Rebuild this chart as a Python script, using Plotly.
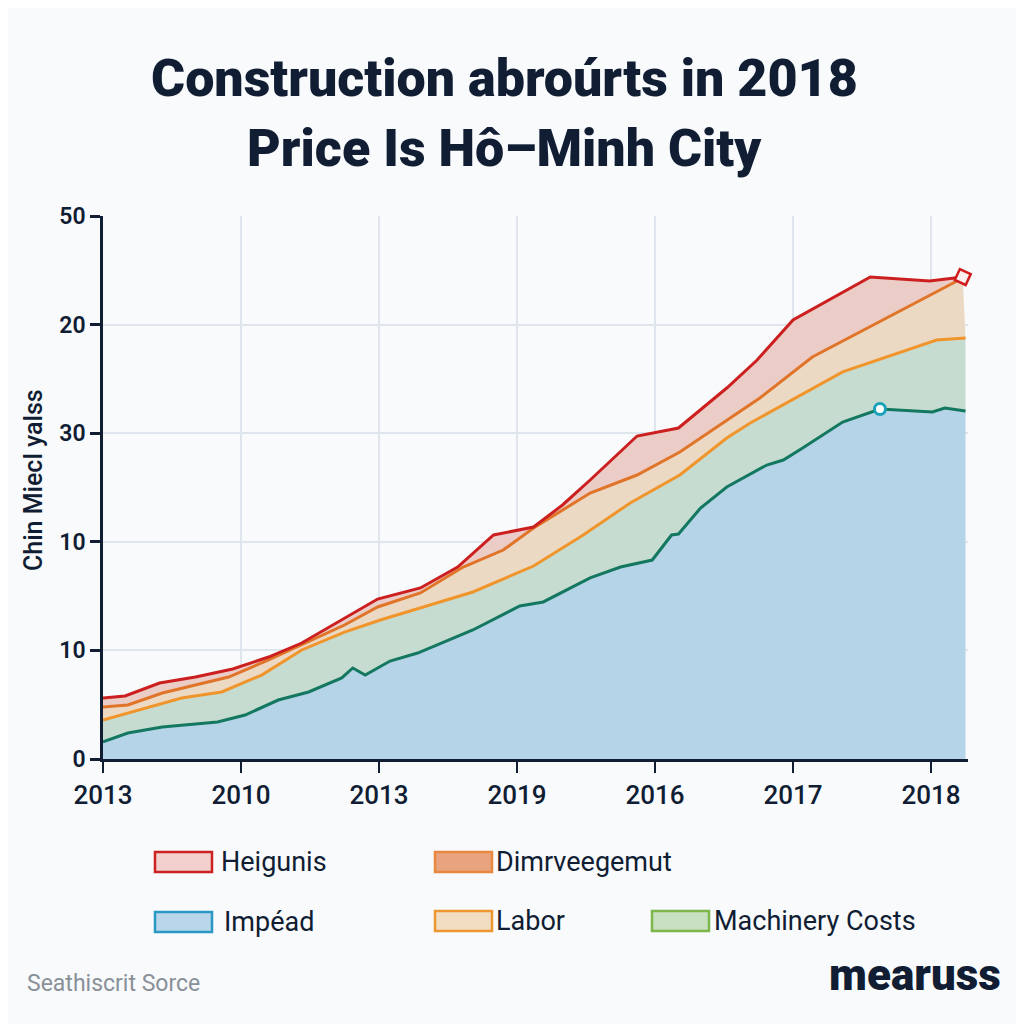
import plotly.graph_objects as go

# ---------------- data ----------------
tick_positions = [0, 1, 2, 3, 4, 5, 6]
tick_labels = ["2013", "2010", "2013", "2019", "2016", "2017", "2018"]
y_tick_values = [0, 10, 20, 30, 40, 50]
y_tick_labels = ["0", "10", "10", "30", "20", "50"]

impead_x = [0, 0.18, 0.43, 0.83, 1.03, 1.27, 1.49, 1.73, 1.81, 1.90, 2.08, 2.28, 2.68,
            3.02, 3.19, 3.53, 3.75, 3.98, 4.12, 4.17, 4.33, 4.52, 4.81, 4.93, 5.07,
            5.36, 5.63, 6.01, 6.10, 6.25]
impead_y = [1.57, 2.39, 2.95, 3.41, 4.05, 5.43, 6.17, 7.46, 8.38, 7.73, 9.02, 9.76, 11.88,
            14.09, 14.46, 16.67, 17.68, 18.32, 20.63, 20.72, 23.11, 25.05, 27.07, 27.53, 28.64,
            31.03, 32.23, 31.95, 32.32, 32.04]

machinery_x = [0, 0.33, 0.57, 0.86, 1.15, 1.44, 1.75, 2.01, 2.37, 2.68, 3.12, 3.48, 3.82,
               4.18, 4.52, 4.69, 5.36, 6.04, 6.25]
machinery_y = [3.59, 4.79, 5.62, 6.17, 7.73, 10.04, 11.69, 12.80, 14.18, 15.38, 17.77, 20.63, 23.57,
               26.15, 29.56, 30.94, 35.64, 38.58, 38.77]

labor_x = [0, 0.18, 0.43, 0.91, 1.20, 1.44, 1.75, 1.99, 2.30, 2.61, 2.90, 3.12, 3.53,
           3.87, 4.18, 4.76, 5.14, 6.23]
labor_y = [4.79, 4.97, 6.08, 7.55, 9.12, 10.50, 12.34, 14.00, 15.29, 17.68, 19.24, 21.27, 24.49,
           26.15, 28.27, 33.24, 37.02, 44.29]

heigunis_x = [0, 0.16, 0.41, 0.67, 0.94, 1.20, 1.44, 1.73, 1.99, 2.30, 2.57, 2.83, 3.12,
              3.33, 3.53, 3.87, 4.17, 4.52, 4.74, 5.00, 5.56, 5.99, 6.23]
heigunis_y = [5.62, 5.80, 7.00, 7.55, 8.29, 9.39, 10.68, 12.80, 14.73, 15.75, 17.68, 20.63, 21.36,
              23.39, 25.69, 29.74, 30.48, 34.16, 36.74, 40.42, 44.38, 44.01, 44.38]

circle_marker_x = [5.63]
circle_marker_y = [32.23]
diamond_marker_x = [6.23]
diamond_marker_y = [44.38]

legend_names = ["Heigunis", "Dimrveegemut", "Impéad", "Labor", "Machinery Costs"]

# ---------------- styling ----------------
BG = "#f8fafc"
NAVY = "#101d33"
OFF = 8                      # page body margin of the browser
W, H = 1024 - OFF, 1024 - OFF
ML, MR, MT, MB = 103 - OFF, 56, 216 - OFF, 265


def px_x(p):
    return (p - OFF - ML) / (W - ML - MR)


def px_y(p):
    return (H - MB - (p - OFF)) / (H - MT - MB)


fig = go.Figure()

fig.add_trace(go.Scatter(x=impead_x, y=impead_y, mode="lines", name="Impéad",
                         line=dict(color="#13785f", width=3), fill="tozeroy",
                         fillcolor="#b6d4e8", showlegend=False))
fig.add_trace(go.Scatter(x=machinery_x, y=machinery_y, mode="lines", name="Machinery Costs",
                         line=dict(color="#f0952c", width=3), fill="tonexty",
                         fillcolor="#c7dcd1", showlegend=False))
fig.add_trace(go.Scatter(x=labor_x, y=labor_y, mode="lines", name="Labor",
                         line=dict(color="#e0752a", width=3), fill="tonexty",
                         fillcolor="#ecd9c3", showlegend=False))
fig.add_trace(go.Scatter(x=heigunis_x, y=heigunis_y, mode="lines", name="Heigunis",
                         line=dict(color="#cc1f1f", width=3), fill="tonexty",
                         fillcolor="#ecccc6", showlegend=False))
fig.add_trace(go.Scatter(x=circle_marker_x, y=circle_marker_y, mode="markers",
                         marker=dict(symbol="circle", size=11, color="white",
                                     line=dict(color="#1aa2b8", width=3)),
                         showlegend=False))
fig.add_trace(go.Scatter(x=diamond_marker_x, y=diamond_marker_y, mode="markers",
                         marker=dict(symbol="square", size=12, angle=25, color="#fdeeee",
                                     line=dict(color="#d01c1c", width=2.5)),
                         showlegend=False, cliponaxis=False))

fig.update_layout(
    width=W, height=H,
    paper_bgcolor=BG, plot_bgcolor=BG,
    margin=dict(l=ML, r=MR, t=MT, b=MB),
    font=dict(family="Roboto", color=NAVY),
    showlegend=False,
    xaxis=dict(range=[0, 6.268], tickvals=tick_positions, ticktext=tick_labels,
               showgrid=True, gridcolor="#dfe5ec", gridwidth=2, zeroline=False,
               showline=True, linecolor=NAVY, linewidth=2.5,
               ticks="outside", ticklen=11, tickwidth=2, tickcolor=NAVY,
               tickfont=dict(size=26, family="Roboto", color=NAVY, weight=500)),
    yaxis=dict(range=[0, 50], tickvals=y_tick_values, ticktext=y_tick_labels,
               showgrid=True, gridcolor="#dfe5ec", gridwidth=2, zeroline=False,
               showline=True, linecolor=NAVY, linewidth=2.5,
               ticks="outside", ticklen=10, tickwidth=2.5, tickcolor=NAVY,
               tickfont=dict(size=23, family="Roboto", color=NAVY, weight=600)),
)

annotations = [
    dict(text="Construction abroúrts in 2018", x=px_x(504), y=px_y(78),
         font=dict(size=52, family="Roboto", color=NAVY, weight=900)),
    dict(text="Price Is Hô–Minh City", x=px_x(504), y=px_y(148),
         font=dict(size=52, family="Roboto", color=NAVY, weight=900)),
    dict(text="Chin Miecl yalss", x=px_x(33), y=px_y(480), textangle=-90,
         font=dict(size=25, family="Roboto", color=NAVY, weight=500)),
    dict(text="Seathiscrit Sorce", x=px_x(25), y=px_y(983), xanchor="left",
         font=dict(size=23, family="Roboto", color="#8a9098")),
    dict(text="mearuss", x=px_x(1003), y=px_y(975), xanchor="right",
         font=dict(size=44, family="Roboto", color=NAVY, weight=900)),
]

# manual legend (boxes + labels)
legend_items = [
    # name, box left px, box top px, fill, outline, text left px
    (legend_names[0], 155, 852, "#f2d0cd", "#cc2222", 219),
    (legend_names[1], 435, 852, "#e9a47f", "#e8893f", 494),
    (legend_names[2], 155, 912, "#b9d6ea", "#2a98c4", 222),
    (legend_names[3], 435, 911, "#f1ddc2", "#ee9630", 494),
    (legend_names[4], 652, 911, "#c9dfc2", "#7db64a", 712),
]
shapes = []
for name, bx, by, fillc, linec, tx in legend_items:
    shapes.append(dict(type="rect", xref="paper", yref="paper",
                       x0=px_x(bx), x1=px_x(bx + 57), y0=px_y(by), y1=px_y(by + 20),
                       fillcolor=fillc, line=dict(color=linec, width=2.5)))
    annotations.append(dict(text=name, x=px_x(tx), y=px_y(by + 10), xanchor="left",
                            font=dict(size=27, family="Roboto", color=NAVY)))

for a in annotations:
    a.setdefault("xref", "paper")
    a.setdefault("yref", "paper")
    a.setdefault("showarrow", False)
    a.setdefault("yanchor", "middle")
    a.setdefault("xanchor", "center")

fig.update_layout(annotations=annotations, shapes=shapes)

fig.write_html("out.html")
